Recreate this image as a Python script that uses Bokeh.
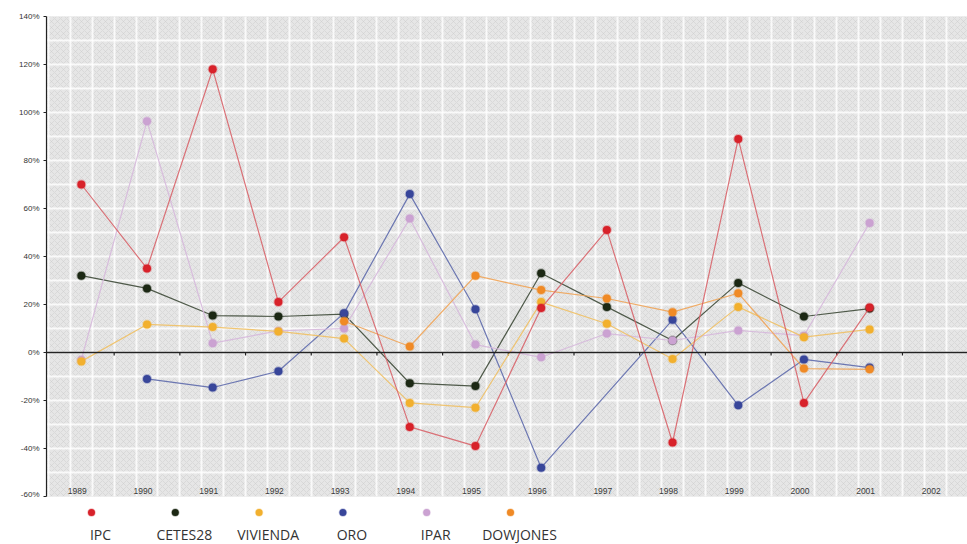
import math
from bokeh.plotting import figure
from bokeh.models import (Range1d, Span, BoxAnnotation, FixedTicker,
                          SingleIntervalTicker, PrintfTickFormatter, ColumnDataSource, Grid)
from bokeh.layouts import column
from bokeh.core.properties import value
from bokeh.embed import file_html
from bokeh.resources import INLINE

NaN = float("nan")

# ---------------- data ----------------
years = [1989, 1990, 1991, 1992, 1993, 1994, 1995, 1996, 1997, 1998, 1999, 2000, 2001]
year_labels = ["1989", "1990", "1991", "1992", "1993", "1994", "1995",
               "1996", "1997", "1998", "1999", "2000", "2001", "2002"]
label_years = [1989, 1990, 1991, 1992, 1993, 1994, 1995, 1996, 1997, 1998, 1999, 2000, 2001, 2002]

IPC = [70, 35, 118, 21, 48, -31, -39, 18.5, 51, -37.5, 89, -21, 18.7]
CETES28 = [32, 26.7, 15.4, 15, 16, -12.8, -14, 33, 19, 5, 29, 15, 18.3]
VIVIENDA = [-3.7, 11.7, 10.6, 8.8, 5.8, -21, -23, 21, 12, -2.7, 19, 6.4, 9.6]
ORO = [NaN, -11, -14.6, -7.8, 16.4, 66, 18, -48, NaN, 13.6, -22, -2.9, -6.3]
IPAR = [-3, 96.4, 3.9, 9, 10, 55.8, 3.3, -2, 7.9, 5, 9.2, 7, 54]
DOWJONES = [NaN, NaN, NaN, NaN, 13, 2.5, 32, 26, 22.5, 16.8, 24.7, -6.7, -7]

series_names = ["IPC", "CETES28", "VIVIENDA", "ORO", "IPAR", "DOWJONES"]
series_values = [IPC, CETES28, VIVIENDA, ORO, IPAR, DOWJONES]
marker_colors = ["#d8222a", "#1c2814", "#f2b02e", "#38469a", "#cba2d2", "#f08a26"]
line_colors = ["#d8646a", "#3e4a38", "#f0c064", "#5e6aac", "#d6b8dc", "#f0a458"]

Y_MIN, Y_MAX = -60, 140
X_MIN, X_MAX = 1988.47, 2002.49

# ---------------- main chart ----------------
p = figure(width=967, height=498, x_range=Range1d(X_MIN, X_MAX), y_range=Range1d(Y_MIN, Y_MAX),
           output_backend="svg", toolbar_location=None, x_axis_location=None,
           min_border_left=46, min_border_right=0, min_border_top=16, min_border_bottom=2)
p.outline_line_color = None
p.background_fill_color = "#e4e4e4"

bg = BoxAnnotation(fill_color="#e6e6e6", fill_alpha=1.0, line_color=None,
                   hatch_pattern="diagonal_cross", hatch_color="#c8c8c8",
                   hatch_scale=6, hatch_weight=0.8, hatch_alpha=0.55, level="image")
p.add_layout(bg)

# grid
p.ygrid.ticker = SingleIntervalTicker(interval=10)
p.ygrid.grid_line_color = "white"
p.ygrid.grid_line_width = 2
p.ygrid.grid_line_alpha = 0.8
vticks = [1988.5 + k / 3.0 for k in range(43)]
p.add_layout(Grid(dimension=0, ticker=FixedTicker(ticks=vticks), grid_line_color="white",
                  grid_line_width=2, grid_line_alpha=0.8))

# y axis
yax = p.yaxis[0]
yax.ticker = SingleIntervalTicker(interval=20)
yax.formatter = PrintfTickFormatter(format="%d%%")
yax.major_label_text_font = "Liberation Sans"
yax.major_label_text_font_size = "8px"
yax.major_label_text_color = "#333333"
yax.axis_line_color = "#222222"
yax.axis_line_width = 1.2
yax.major_tick_in = 0
yax.major_tick_out = 3
yax.major_tick_line_color = "#222222"
yax.minor_tick_out = 0
yax.minor_tick_in = 0
yax.major_label_standoff = 4

# zero line with small ticks between categories
p.add_layout(Span(location=0, dimension="width", line_color="#222222", line_width=1.4))
mid_ticks = [y + 0.5 for y in years]
p.segment(x0=mid_ticks, x1=mid_ticks, y0=[0] * len(mid_ticks), y1=[-1.2] * len(mid_ticks),
          line_color="#222222", line_width=1.2)

# series
order = [1, 3, 4, 2, 5, 0]
for i in order:
    vals = series_values[i]
    xs = [y for y, v in zip(years, vals) if not math.isnan(v)]
    ys = [v for v in vals if not math.isnan(v)]
    src = ColumnDataSource(dict(x=xs, y=ys))
    p.line("x", "y", source=src, line_color=line_colors[i], line_width=1.2, line_alpha=0.9)
    p.scatter("x", "y", source=src, size=8, fill_color=marker_colors[i], line_color=marker_colors[i],
              line_alpha=0.3, line_width=2)

# year labels inside bottom of frame
p.text(x=label_years, y=[Y_MIN + 2.5] * len(label_years), text=year_labels,
       text_font=value("Liberation Sans"), text_font_size="8.5px", text_color="#3a3a3a",
       text_align="center", text_baseline="middle", x_offset=-4)

# ---------------- legend strip ----------------
lg = figure(width=967, height=46, x_range=Range1d(46, 967), y_range=Range1d(46, 0),
            output_backend="svg", toolbar_location=None, x_axis_location=None, y_axis_location=None,
            min_border_left=46, min_border_right=0, min_border_top=0, min_border_bottom=0)
lg.outline_line_color = None
lg.xgrid.visible = False
lg.ygrid.visible = False
LEG_X0, LEG_DX = 91, 83.8
leg_x = [LEG_X0 + i * LEG_DX for i in range(len(series_names))]
lg.scatter(x=leg_x, y=[14] * len(leg_x), size=7, fill_color=marker_colors, line_color=marker_colors,
           line_alpha=0.3, line_width=1.5)
lg.text(x=[x + 9 for x in leg_x], y=[36] * len(leg_x), text=series_names,
        text_font=value("Open Sans"), text_font_size="14px", text_color="#333333",
        text_align="center", text_baseline="middle")

layout = column(p, lg, spacing=0)
open("out.html", "w").write(file_html(layout, INLINE))
